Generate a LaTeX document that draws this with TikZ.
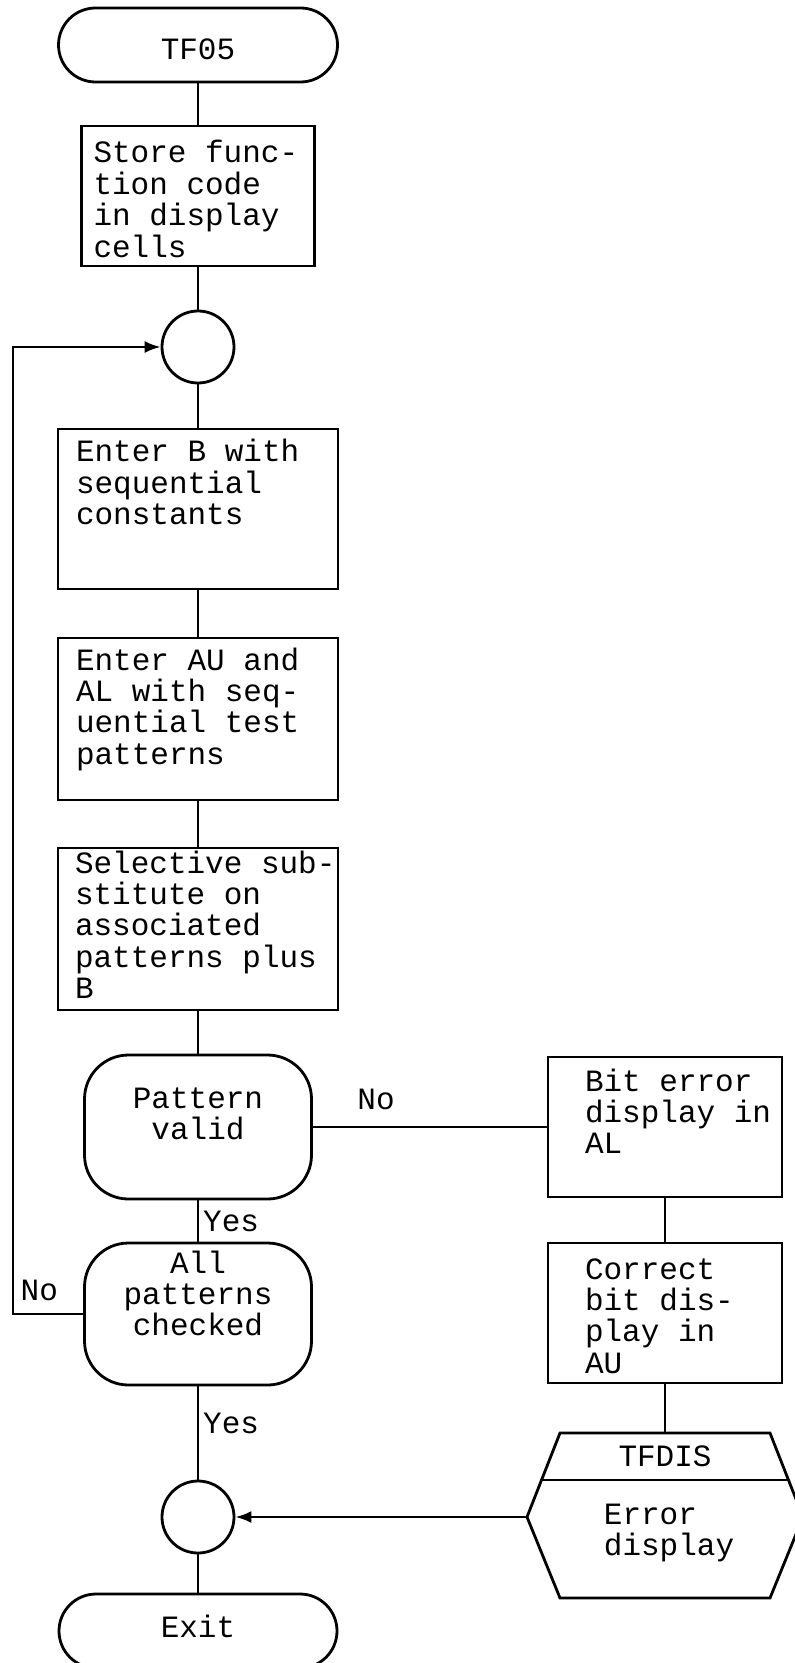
\documentclass[tikz,border=0pt]{standalone}
\usepackage{fontspec}
\newfontfamily\flowfont{Liberation Mono}
\newcommand\flowtext{\flowfont\fontsize{15.5pt}{15.7pt}\selectfont}
\usetikzlibrary{arrows.meta,positioning}
\tikzset{
  flow/.style={line width=1.2pt},
  arr/.style={flow,-{Latex[length=8pt,width=6pt]}},
  monotext/.style={font=\flowtext,execute at begin node={\spaceskip=0.6em\xspaceskip=0.6em\relax}},
  procbox/.style={draw,line width=1.4pt,align=left,inner ysep=0pt,monotext},
  termbox/.style={draw,line width=1.4pt,rounded corners=18.5pt,align=center,
                  inner ysep=0pt,monotext},
  decbox/.style={draw,line width=1.4pt,rounded corners=22pt,align=center,
                 inner xsep=4pt,text width=105.5pt,inner ysep=0pt,monotext},
  joint/.style={draw,circle,line width=1.4pt,minimum size=36pt,inner sep=0pt},
  lbl/.style={monotext,inner sep=2pt},
}

\begin{document}
\begin{tikzpicture}[x=0.5pt,y=-0.5pt]
  \useasboundingbox (0,0) rectangle (794,1663);

  % main column
  \node[termbox,minimum width=139.5pt,text height=26pt,text depth=11pt] (start) at (198,45) {TF05};
  \node[procbox,inner xsep=6pt,text width=104.5pt,text height=18.5pt,text depth=51.5pt] (store) at (198,196)
    {Store func-\\tion code\\in display\\cells};
  \node[joint] (c1) at (198,347) {};
  \node[procbox,inner xsep=9pt,text width=122pt,text height=16.5pt,text depth=63.5pt] (entb) at (198,509)
    {Enter B with\\sequential\\constants};
  \node[procbox,inner xsep=9pt,text width=122pt,text height=16pt,text depth=65pt] (entau) at (198,719)
    {Enter AU and\\AL with seq-\\uential test\\patterns};
  \node[procbox,inner xsep=8.5pt,text width=123pt,text height=12.5pt,text depth=68.5pt] (subst) at (198,929)
    {\mbox{Selective sub-}\\stitute on\\associated\\patterns plus\\B};
  \node[decbox,text height=26.5pt,text depth=45.5pt] (valid) at (198,1127) {Pattern\\valid};
  \node[decbox,text height=15pt,text depth=56pt] (allchk) at (198,1314) {All\\patterns\\checked};
  \node[joint] (c2) at (198,1517) {};
  \node[termbox,minimum width=139pt,text height=21.5pt,text depth=15.5pt] (exit) at (198,1631) {Exit};

  % error branch
  \node[procbox,inner xsep=18.5pt,text width=80pt,text height=17pt,text depth=53pt] (biterr) at (665,1127)
    {\mbox{Bit error}\\\mbox{display in}\\AL};
  \node[procbox,inner xsep=18.5pt,text width=80pt,text height=18pt,text depth=52pt] (corbit) at (665,1313)
    {Correct\\bit dis-\\play in\\AU};

  % display symbol
  \coordinate (dtop) at (665,1433);
  \coordinate (dleft) at (527,1517);
  \draw[line width=1.4pt] (560,1433) -- (770,1433) -- (803,1517) -- (770,1598) -- (560,1598) -- (dleft) -- cycle;
  \draw[line width=1.4pt] (541.5,1480) -- (788.5,1480);
  \node[lbl] (tfdis) at (665,1456) {TFDIS};
  \node[lbl,align=left] (errdisp) at (669,1533) {Error\\display};

  % connectors
  \draw[flow] (start) -- (store);
  \draw[flow] (store) -- (c1);
  \draw[flow] (c1) -- (entb);
  \draw[flow] (entb) -- (entau);
  \draw[flow] (entau) -- (subst);
  \draw[flow] (subst) -- (valid);
  \draw[flow] (valid) -- node[lbl,right,pos=0.5] {Yes} (allchk);
  \draw[flow] (allchk) -- node[lbl,right,pos=0.4] {Yes} (c2);
  \draw[flow] (c2) -- (exit);
  \draw[flow] (valid) -- node[lbl,above=6pt,pos=0.27] {No} (biterr);
  \draw[flow] (biterr) -- (corbit);
  \draw[flow] (corbit) -- (dtop);
  \draw[arr] (dleft) -- (c2);

  % loop back
  \coordinate (loopbot) at (13,1314);
  \draw[arr] (allchk.west) -- node[lbl,above=4pt,pos=0.625] {No} (loopbot) |- (c1.west);
\end{tikzpicture}
\end{document}
